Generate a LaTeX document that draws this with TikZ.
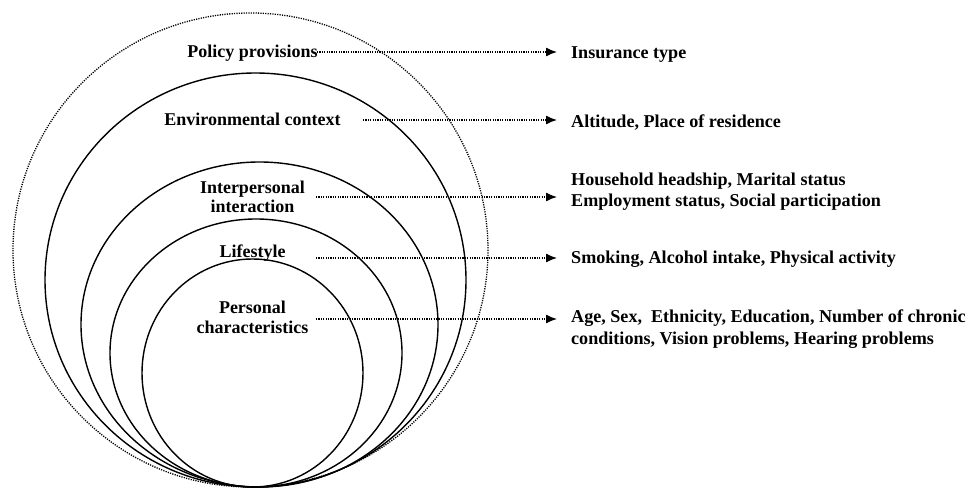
\documentclass[tikz,border=0pt]{standalone}
\usepackage{fontspec}
\setmainfont{Liberation Serif}
\usetikzlibrary{arrows.meta}
\begin{document}
\begin{tikzpicture}[x=1pt,y=-1pt,
  ring/.style={line width=1.4pt},
  dotring/.style={line width=1.3pt, dash pattern=on 1.2pt off 1.2pt},
  conn/.style={line width=1.3pt, dash pattern=on 1.2pt off 1.2pt, -{Latex[length=11pt,width=9pt]}, shorten >=14pt},
  lab/.style={font=\fontsize{18}{19.5}\selectfont\bfseries, align=center, inner sep=0pt, anchor=base},
  rlab/.style={font=\fontsize{18.1}{21.5}\selectfont\bfseries, align=left, inner sep=0pt, anchor=base west},
]
\useasboundingbox (0,0) rectangle (972,489);
% nested circles
\draw[dotring] (250.5,250) ellipse [x radius=237.5, y radius=237];
\draw[ring] (255.5,280) ellipse [x radius=210.5, y radius=207];
\draw[ring] (259.5,324.5) ellipse [x radius=178.5, y radius=162.5];
\draw[ring] (256,353) ellipse [x radius=146, y radius=134];
\draw[ring] (252.5,373) ellipse [x radius=110.5, y radius=114];
% left labels
\node[lab] (p1) at (252.5,58) {Policy provisions};
\node[lab] (p2) at (252.5,126) {Environmental context};
\node[lab] (p3) at (252.5,213) {Interpersonal\\interaction};
\node[lab] (p4) at (252.5,258) {Lifestyle};
\node[lab] (p5) at (252.5,333) {Personal\\characteristics};
% right labels
\node[rlab] (r1) at (571,59) {Insurance type};
\node[rlab] (r2) at (571,128) {Altitude, Place of residence};
\node[rlab] (r3) at (571,207) {Household headship, Marital status\\Employment status, Social participation};
\node[rlab] (r4) at (571,264) {Smoking, Alcohol intake, Physical activity};
\node[rlab] (r5) at (571,344) {Age, Sex,\ \ Ethnicity, Education, Number of chronic\\conditions, Vision problems, Hearing problems};
% connector starts
\coordinate (s1) at (317,52);
\coordinate (s2) at (363,120);
\coordinate (s3) at (316,197);
\coordinate (s4) at (316,258);
\coordinate (s5) at (316,319);
\draw[conn] (s1) -- (s1 -| r1.west);
\draw[conn] (s2) -- (s2 -| r2.west);
\draw[conn] (s3) -- (s3 -| r3.west);
\draw[conn] (s4) -- (s4 -| r4.west);
\draw[conn] (s5) -- (s5 -| r5.west);
\end{tikzpicture}
\end{document}
